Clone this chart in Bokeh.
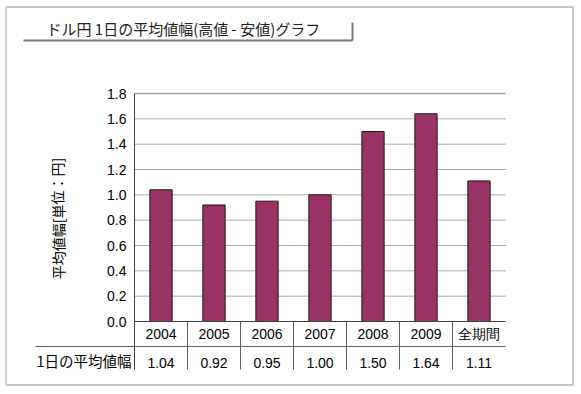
from bokeh.plotting import figure
from bokeh.models import Range1d
from bokeh.core.properties import value
from bokeh.embed import file_html
from bokeh.resources import INLINE

# ---- data ----
categories = ["2004", "2005", "2006", "2007", "2008", "2009", "全期間"]
averages = [1.04, 0.92, 0.95, 1.00, 1.50, 1.64, 1.11]
value_labels = ["1.04", "0.92", "0.95", "1.00", "1.50", "1.64", "1.11"]
y_ticks = [0.0, 0.2, 0.4, 0.6, 0.8, 1.0, 1.2, 1.4, 1.6, 1.8]
y_tick_labels = ["0.0", "0.2", "0.4", "0.6", "0.8", "1.0", "1.2", "1.4", "1.6", "1.8"]
title_text = "ドル円 1日の平均値幅(高値 - 安値)グラフ"
y_label = "平均値幅[単位：円]"
row_label = "1日の平均値幅"

# ---- layout (figure pixels) ----
W, H = 578, 390
FX0 = 134          # plot-area left edge
CELL = 53          # px per category
FY0 = 321          # y = 0 baseline
YMAX = 1.8
PPU = 228 / YMAX   # px per unit

def dx(fx):
    return (fx - FX0) / CELL

def dy(fy):
    return (FY0 - fy) / PPU

n = len(categories)
p = figure(width=W, height=H, output_backend="svg", toolbar_location=None,
           x_axis_type=None, y_axis_type=None, min_border=0,
           x_range=Range1d(dx(0), dx(W)), y_range=Range1d(dy(H), dy(0)))
p.grid.visible = False
p.outline_line_color = None
p.background_fill_color = "white"
p.border_fill_color = "white"

NUM_FONT = value("Liberation Sans")
JP_FONT = value("Noto Sans CJK JP")

# outer border
bx0, bx1, by0, by1 = dx(5.5), dx(572.5), dy(6.5), dy(384.5)
p.segment(x0=[bx0, bx0, bx0, bx1], x1=[bx1, bx1, bx0, bx1],
          y0=[by0, by1, by0, by0], y1=[by0, by1, by1, by1],
          line_color="#b0b0b0", line_width=1.3)

# gridlines (dotted) for inner ticks, solid top line
inner = [t for t in y_ticks if 0 < t < YMAX]
p.segment(x0=[0] * len(inner), x1=[n] * len(inner), y0=inner, y1=inner,
          line_color="#555555", line_dash="1 1", line_width=1)
p.segment(x0=[0], x1=[n], y0=[YMAX], y1=[YMAX], line_color="#a0a0a0", line_width=1.3)

# bars
xs = [i + 0.5 for i in range(n)]
p.vbar(x=xs, top=averages, bottom=0, width=0.42,
       fill_color="#993366", line_color="#1a1a1a", line_width=1)

# axis lines / table lines
p.segment(x0=[0], x1=[0], y0=[YMAX], y1=[dy(369)], line_color="#404040", line_width=1)
p.segment(x0=[0], x1=[n], y0=[0], y1=[0], line_color="#404040", line_width=1)
p.segment(x0=[dx(35)], x1=[n], y0=[dy(346)], y1=[dy(346)], line_color="#606060", line_width=1)
bounds = list(range(1, n))
p.segment(x0=bounds, x1=bounds, y0=[0] * len(bounds), y1=[dy(369)] * len(bounds),
          line_color="#606060", line_width=1)

# y tick labels
p.text(x=[dx(126)] * len(y_ticks), y=y_ticks, text=y_tick_labels,
       text_align="right", text_baseline="middle", text_font=NUM_FONT,
       text_font_size="14px", text_color="#000000")

# category row
p.text(x=xs, y=[dy(333)] * n, text=categories, text_align="center",
       text_baseline="middle", text_font=NUM_FONT, text_font_size="14px",
       text_color="#000000")

# value row
p.text(x=xs, y=[dy(362)] * n, text=value_labels, text_align="center",
       text_baseline="middle", text_font=NUM_FONT, text_font_size="14px",
       text_color="#000000")
p.text(x=[dx(131)], y=[dy(360)], text=[row_label], text_align="right",
       text_baseline="middle", text_font=JP_FONT, text_font_size="14.5px",
       text_color="#000000")

# y-axis title
p.text(x=[dx(57)], y=[dy(218)], text=[y_label], angle=1.5708,
       text_align="center", text_baseline="middle", text_font=JP_FONT,
       text_font_size="14px", text_color="#000000")

# chart title with bevel-like frame
p.text(x=[dx(46)], y=[dy(28)], text=[title_text], text_align="left",
       text_baseline="middle", text_font=JP_FONT, text_font_size="15px",
       text_color="#222222")
p.segment(x0=[dx(23), dx(352)], x1=[dx(352), dx(352)],
          y0=[dy(40), dy(22)], y1=[dy(40), dy(40)],
          line_color="#7a7a7a", line_width=2)

open("out.html", "w").write(file_html(p, INLINE))
